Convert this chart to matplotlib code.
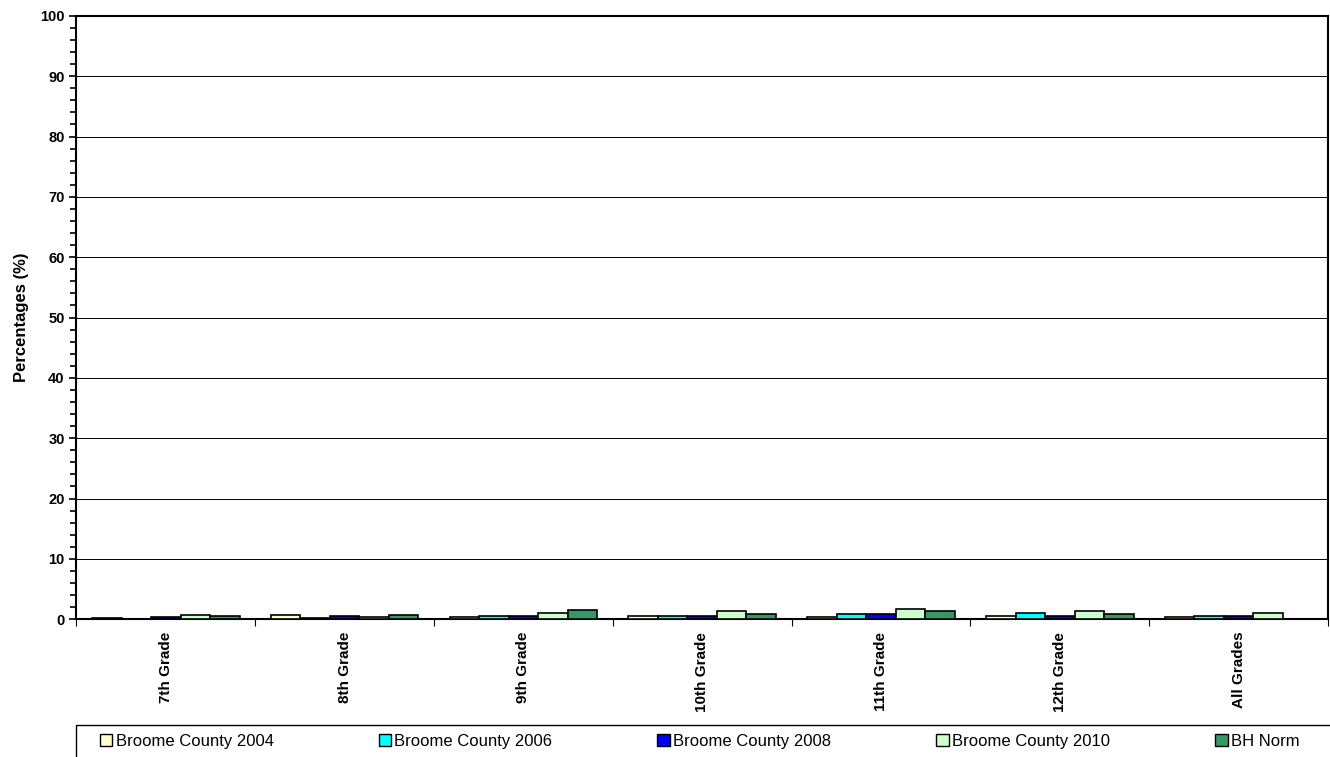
import numpy as np
import matplotlib.pyplot as plt
from matplotlib.patches import Patch, Rectangle
from matplotlib.ticker import MultipleLocator, FixedLocator

# Data
grades = ['7th Grade', '8th Grade', '9th Grade', '10th Grade', '11th Grade', '12th Grade', 'All Grades']
series = ['Broome County 2004', 'Broome County 2006', 'Broome County 2008', 'Broome County 2010', 'BH Norm']
bc2004 = [0.2, 0.7, 0.4, 0.5, 0.3, 0.6, 0.4]
bc2006 = [0.1, 0.2, 0.5, 0.5, 0.9, 1.0, 0.5]
bc2008 = [0.3, 0.6, 0.6, 0.6, 0.8, 0.6, 0.6]
bc2010 = [0.7, 0.4, 1.1, 1.3, 1.7, 1.3, 1.1]
bh_norm = [0.5, 0.7, 1.5, 0.9, 1.3, 0.9, 0.0]
colors = ['#FFFFCC', '#00FFFF', '#0000FF', '#CCFFCC', '#339966']

values = [bc2004, bc2006, bc2008, bc2010, bh_norm]

fig = plt.figure(figsize=(13.3, 7.57), dpi=100)
ax = fig.add_axes([0.0575, 0.182, 0.941, 0.797])

x = np.arange(len(grades))
w = 0.165
for i, (vals, c) in enumerate(zip(values, colors)):
    ax.bar(x + (i - 2) * w, vals, width=w, color=c, edgecolor='black', linewidth=1.2, zorder=3)

ax.set_xlim(-0.5, len(grades) - 0.5)
ax.set_ylim(0, 100)
ax.yaxis.set_major_locator(MultipleLocator(10))
ax.yaxis.set_minor_locator(MultipleLocator(2))
ax.grid(axis='y', which='major', color='black', linewidth=0.7, zorder=0)

ax.xaxis.set_major_locator(FixedLocator(np.arange(-0.5, len(grades), 1)))
ax.xaxis.set_minor_locator(FixedLocator(x))
ax.set_xticklabels([], minor=False)
ax.set_xticklabels(grades, minor=True, rotation=90, fontweight='bold', fontsize=11,
                   family='Liberation Sans')
ax.tick_params(axis='x', which='minor', length=0, pad=9)
ax.tick_params(axis='x', which='major', length=5, direction='out')
ax.tick_params(axis='y', which='major', length=5, width=1.2, direction='out')
ax.tick_params(axis='y', which='minor', length=4, width=1.2, direction='out')
for lab in ax.get_yticklabels():
    lab.set_fontweight('bold')
    lab.set_fontsize(10.5)
    lab.set_family('Liberation Sans')

for sp in ax.spines.values():
    sp.set_linewidth(1.5)

ax.set_ylabel('Percentages (%)', fontweight='bold', fontsize=12, family='Liberation Sans', labelpad=8)

# legend box (runs off the bottom/right like the original)
fig.patches.append(Rectangle((0.0575, -0.02), 0.96, 0.0623, transform=fig.transFigure,
                             facecolor='white', edgecolor='black', linewidth=1.0))
handles = [Patch(facecolor=c, edgecolor='black', label=s) for s, c in zip(series, colors)]
leg = fig.legend(handles=handles, loc='center left', ncol=5, bbox_to_anchor=(0.075, 0.021),
                 frameon=False, prop={'family': 'Liberation Sans', 'size': 12},
                 handlelength=0.75, handleheight=0.75, handletextpad=0.2, borderaxespad=0,
                 borderpad=0, columnspacing=6.3)

fig.savefig('out.png', dpi=100)
